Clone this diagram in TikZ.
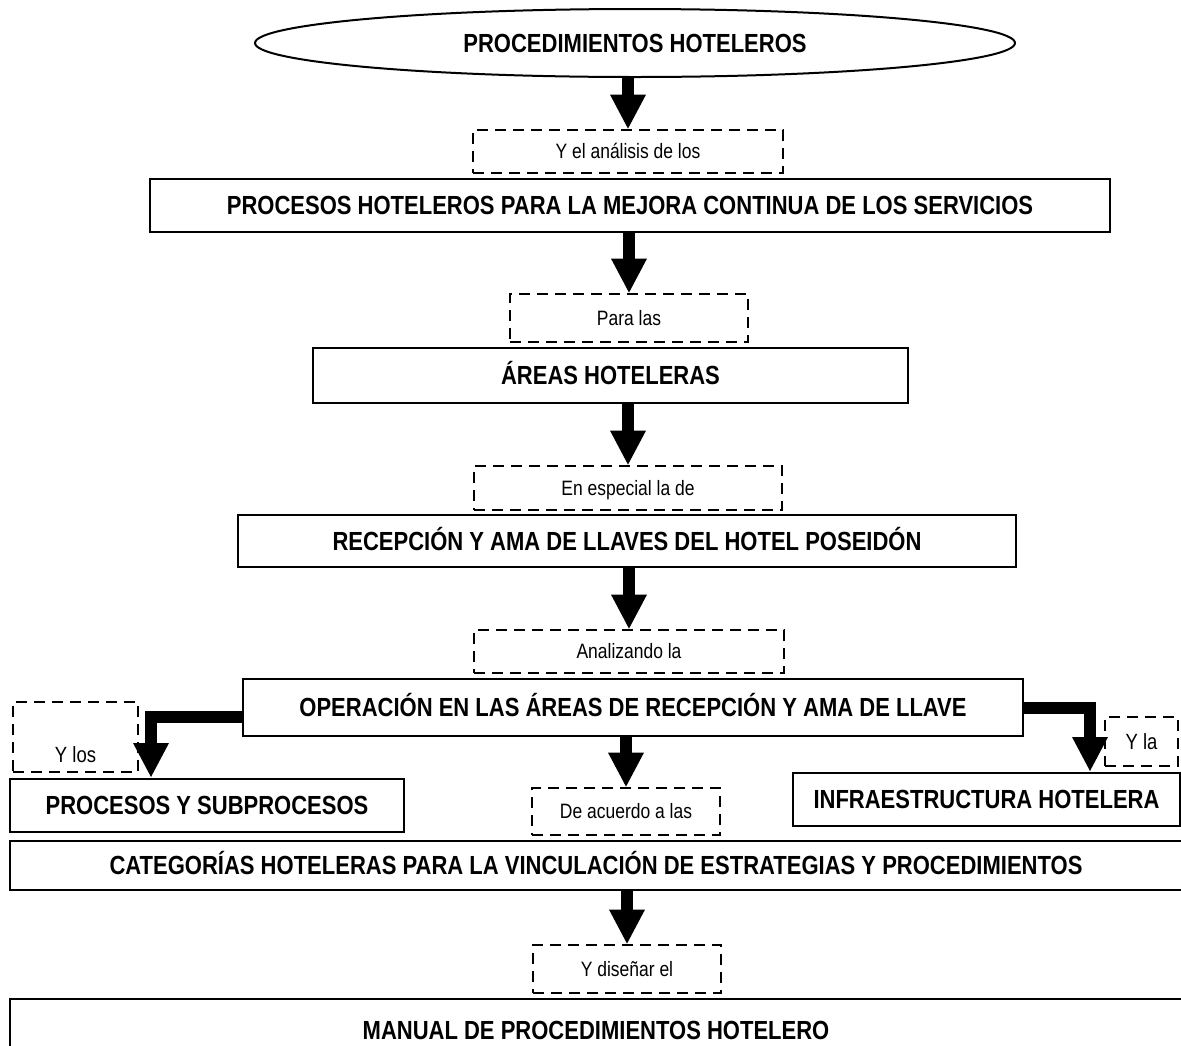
\documentclass[tikz,border=0pt]{standalone}
\usepackage{fontspec}
\setmainfont{Liberation Sans}[FakeStretch=0.84]
\usetikzlibrary{shapes.geometric,arrows.meta,calc}

\begin{document}
\begin{tikzpicture}[x=1pt,y=-1pt,
  headfont/.style={font=\fontsize{26.2}{28}\selectfont\bfseries, text height=18.8pt, text depth=0pt},
  solidbox/.style={draw, line width=2pt, fill=white, rectangle, inner sep=0pt, headfont},
  dashbox/.style={draw, line width=2.8pt, dash pattern=on 11pt off 7pt, rectangle, inner sep=0pt,
    font=\fontsize{20.8}{24}\selectfont, text height=14.9pt, text depth=0pt},
  sidetext/.style={font=\fontsize{22}{26}\selectfont, text height=15.75pt, text depth=0pt, inner sep=0pt},
  barrow/.style={line width=12pt, line join=miter,
    -{Triangle[length=34pt,width=36pt,line width=0pt]}},
]
\useasboundingbox (0,0) rectangle (1181,1045);
\clip (0,0) rectangle (1181,1045);
\fill[white] (0,0) rectangle (1181,1045);

% main chain
\node[ellipse, draw, line width=2pt, minimum width=760pt, minimum height=68pt, inner sep=0pt, headfont]
  (e0) at (635,43) {PROCEDIMIENTOS HOTELEROS};
\node[dashbox, minimum width=310pt, minimum height=43pt] (d1) at (628,151.5) {Y el análisis de los};
\node[solidbox, minimum width=960pt, minimum height=53pt] (b1) at (630,205.5)
  {PROCESOS HOTELEROS PARA LA MEJORA CONTINUA DE LOS SERVICIOS};
\node[dashbox, minimum width=238pt, minimum height=48pt] (d2) at (629,318) {Para las};
\node[solidbox, minimum width=595pt, minimum height=55pt] (b2) at (610.5,375.5) {ÁREAS HOTELERAS};
\node[dashbox, minimum width=308pt, minimum height=44pt] (d3) at (628,488) {En especial la de};
\node[solidbox, minimum width=778pt, minimum height=52pt] (b3) at (627,541)
  {RECEPCIÓN Y AMA DE LLAVES DEL HOTEL POSEIDÓN};
\node[dashbox, minimum width=310pt, minimum height=43pt] (d4) at (629,651.5) {Analizando la};
\node[solidbox, minimum width=780pt, minimum height=57pt] (b4) at (633,707.5)
  {OPERACIÓN EN LAS ÁREAS DE RECEPCIÓN Y AMA DE LLAVE};

% three branches
\node[dashbox, minimum width=125pt, minimum height=70pt,
  label={[sidetext, yshift=-18pt]center:Y los}] (d5) at (75.5,737) {};
\node[solidbox, minimum width=394pt, minimum height=53pt] (b5) at (207,805.5) {PROCESOS Y SUBPROCESOS};
\node[dashbox, minimum width=73pt, minimum height=49pt, sidetext] (d6) at (1141.5,741.5) {Y la};
\node[solidbox, minimum width=387pt, minimum height=53pt] (b6) at (986.5,799.5) {INFRAESTRUCTURA HOTELERA};
\node[dashbox, minimum width=188pt, minimum height=47pt] (d7) at (626,811.5) {De acuerdo a las};

% closing boxes
\node[solidbox, minimum width=1172pt, minimum height=49pt] (b7) at (596,865.5)
  {CATEGORÍAS HOTELERAS PARA LA VINCULACIÓN DE ESTRATEGIAS Y PROCEDIMIENTOS};
\node[dashbox, minimum width=188pt, minimum height=48pt] (d8) at (627,969) {Y diseñar el};
\node[solidbox, minimum width=1172pt, minimum height=62pt] (b8) at (596,1030)
  {MANUAL DE PROCEDIMIENTOS HOTELERO};

% block arrows
\draw[barrow] (e0.south -| d1.north) -- (d1.north);
\draw[barrow] (b1.south -| d2.north) -- (d2.north);
\draw[barrow] (b2.south -| d3.north) -- (d3.north);
\draw[barrow] (b3.south -| d4.north) -- (d4.north);
\draw[barrow] ($(b4.west)+(0,9.5)$) -| ($(b5.north west)+(142,-1)$);
\draw[barrow] (b4.east) -| ($(b6.north west)+(298,-1)$);
\draw[barrow] (b4.south -| d7.north) -- (d7.north);
\draw[barrow] (b7.south -| d8.north) -- (d8.north);
\end{tikzpicture}
\end{document}
